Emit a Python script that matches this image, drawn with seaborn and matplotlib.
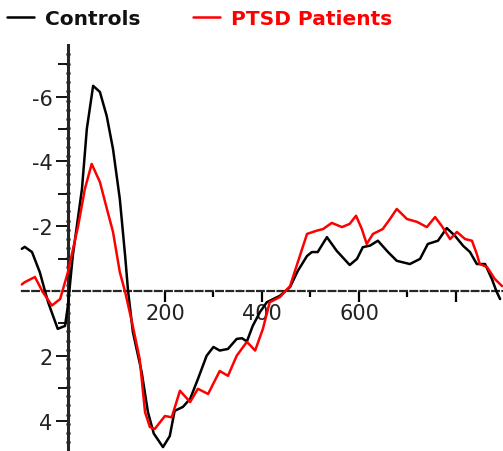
import numpy as np
import pandas as pd
import seaborn as sns
import matplotlib.pyplot as plt
from matplotlib.ticker import FixedLocator, NullFormatter

# Controls (black) - time in ms, amplitude in microvolts
ctrl_time = [-95, -89, -74, -58, -41, -21, -6, 0, 10, 29, 39, 52, 66, 80, 93, 107,
             118, 124, 134, 152, 165, 177, 196, 210, 220, 237, 252, 268, 286, 300,
             313, 330, 348, 359, 369, 381, 396, 410, 437, 458, 474, 493, 503, 515,
             534, 554, 581, 596, 608, 623, 639, 660, 678, 705, 726, 742, 763, 781,
             798, 815, 829, 843, 860, 874, 884, 891]
ctrl_amp = [-1.3, -1.36, -1.2, -0.58, 0.34, 1.17, 1.08, 0.46, -1.08, -3.15, -5.0,
            -6.33, -6.14, -5.4, -4.38, -2.84, -1.08, 0.0, 1.27, 2.5, 3.74, 4.4, 4.82,
            4.48, 3.7, 3.58, 3.33, 2.72, 2.0, 1.73, 1.84, 1.79, 1.48, 1.46, 1.56, 1.08,
            0.65, 0.35, 0.15, -0.12, -0.62, -1.08, -1.2, -1.2, -1.66, -1.24, -0.8,
            -0.99, -1.35, -1.4, -1.55, -1.2, -0.93, -0.83, -0.99, -1.45, -1.55, -1.94,
            -1.7, -1.39, -1.2, -0.83, -0.83, -0.37, 0.03, 0.25]

# PTSD patients (red)
ptsd_time = [-95, -89, -68, -52, -33, -16, 0, 21, 35, 49, 66, 82, 93, 107, 118, 132,
             148, 159, 169, 179, 200, 214, 231, 252, 268, 289, 313, 330, 348, 369,
             386, 402, 416, 437, 458, 474, 493, 513, 526, 544, 565, 581, 594, 606,
             616, 629, 649, 664, 678, 699, 720, 740, 757, 771, 788, 802, 819, 833,
             843, 849, 864, 880, 895]
ptsd_amp = [-0.2, -0.27, -0.43, 0.03, 0.45, 0.25, -0.58, -2.0, -3.15, -3.92, -3.36,
            -2.44, -1.82, -0.58, 0.03, 0.96, 2.1, 3.74, 4.2, 4.26, 3.86, 3.9, 3.08,
            3.43, 3.02, 3.18, 2.47, 2.62, 2.0, 1.57, 1.84, 1.17, 0.35, 0.19, -0.15,
            -0.89, -1.76, -1.86, -1.91, -2.1, -1.97, -2.07, -2.32, -1.91, -1.45, -1.76,
            -1.91, -2.22, -2.53, -2.22, -2.13, -1.97, -2.28, -2.0, -1.6, -1.82, -1.6,
            -1.55, -1.14, -0.83, -0.74, -0.37, -0.15]

groups = ['Controls', 'PTSD Patients']
colors = {'Controls': '#000000', 'PTSD Patients': '#ff0000'}

x_major = [200, 400, 600, 800]
x_labels = ['200', '400', '600', '']
x_minor = [300, 500, 700]
y_major = [-6, -4, -2, 2, 4]
y_minor = [-7, -5, -3, -1, 1, 3]

df = pd.concat([
    pd.DataFrame({'time': ctrl_time, 'amp': ctrl_amp, 'group': groups[0]}),
    pd.DataFrame({'time': ptsd_time, 'amp': ptsd_amp, 'group': groups[1]}),
])

sns.set_style('white')
plt.rcParams['font.family'] = ['DejaVu Sans']

fig = plt.figure(figsize=(5.03, 4.52), dpi=100)
ax = fig.add_axes([0, 0, 1, 1])

sns.lineplot(data=df, x='time', y='amp', hue='group', palette=colors,
             estimator=None, linewidth=1.8, ax=ax, zorder=3)

ax.set_xlim(-140, 897)
ax.set_ylim(4.94, -9.01)

# axes through the origin
for s in ['top', 'right']:
    ax.spines[s].set_visible(False)
ax.spines['left'].set_position(('data', 0))
ax.spines['left'].set_bounds(-7.6, 4.94)
ax.spines['left'].set_linewidth(2.2)
ax.spines['left'].set_zorder(2)
ax.spines['bottom'].set_position(('data', 0))
ax.spines['bottom'].set_bounds(-95, 897)
ax.spines['bottom'].set_linewidth(1.6)
ax.spines['bottom'].set_linestyle((0, (3, 1.6)))

# dots along the y axis
dots = np.arange(-7.3, 4.9, 0.285)
ax.plot(np.zeros_like(dots), dots, 'o', color='black', ms=3.0, mew=0, zorder=2)

ax.set_xticks(x_major)
ax.set_xticklabels(x_labels)
ax.xaxis.set_minor_locator(FixedLocator(x_minor))
ax.xaxis.set_minor_formatter(NullFormatter())
ax.tick_params(axis='x', which='both', bottom=True, color='black')
ax.tick_params(axis='x', which='major', direction='out', length=8, width=1.6,
               pad=1, labelsize=15, labelcolor='#222222')
ax.tick_params(axis='x', which='minor', direction='out', length=4, width=1.6)

ax.set_yticks(y_major)
ax.set_yticklabels([str(v) for v in y_major])
ax.yaxis.set_minor_locator(FixedLocator(y_minor))
ax.yaxis.set_minor_formatter(NullFormatter())
ax.tick_params(axis='y', which='both', left=True, color='black')
ax.tick_params(axis='y', which='major', direction='out', length=9, width=1.3,
               pad=2, labelsize=15, labelcolor='#222222')
ax.tick_params(axis='y', which='minor', direction='out', length=7, width=1.3)

ax.set_xlabel('')
ax.set_ylabel('')

ax.legend(loc='center left', bbox_to_anchor=(0.014, 0.956), ncol=2, frameon=False,
          borderpad=0, borderaxespad=0, handlelength=1.35, handletextpad=0.55,
          columnspacing=2.6, labelcolor=['#111111', '#ff0000'],
          prop={'weight': 'bold', 'size': 14.5})

fig.savefig('out.png', dpi=100)
